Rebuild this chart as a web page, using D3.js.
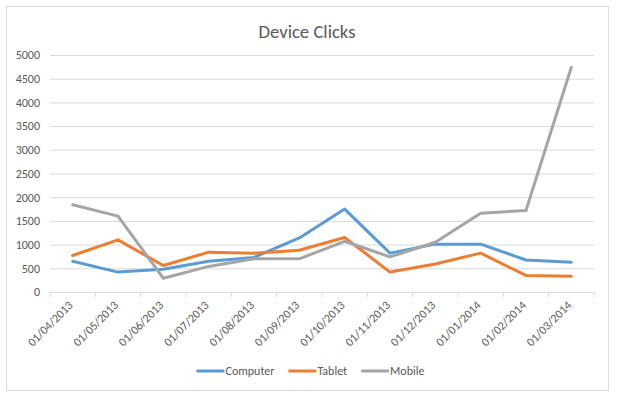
<!DOCTYPE html>
<html>
<head>
<meta charset="utf-8">
<script src="https://cdn.jsdelivr.net/npm/d3@7"></script>
<style>
  body { margin: 0; background: #fff; }
  svg text { font-family: Calibri, Carlito, "Liberation Sans", Arial, sans-serif; fill: #595959; }
</style>
</head>
<body>
<script>
// data
var months = ["01/04/2013", "01/05/2013", "01/06/2013", "01/07/2013", "01/08/2013", "01/09/2013",
  "01/10/2013", "01/11/2013", "01/12/2013", "01/01/2014", "01/02/2014", "01/03/2014"];
var computer = [650, 420, 480, 650, 730, 1140, 1750, 820, 1010, 1010, 675, 630];
var tablet = [770, 1100, 560, 840, 820, 880, 1150, 420, 590, 820, 350, 330];
var mobile = [1840, 1600, 290, 540, 700, 700, 1070, 740, 1050, 1660, 1720, 4740];
var yTicks = [0, 500, 1000, 1500, 2000, 2500, 3000, 3500, 4000, 4500, 5000];
var seriesNames = ["Computer", "Tablet", "Mobile"];
var seriesColors = ["#5B9BD5", "#ED7D31", "#A5A5A5"];

var width = 617, height = 398;
var margin = {left: 50, right: 23, top: 55, bottom: 106};

var svg = d3.select("body").append("svg")
  .attr("width", width)
  .attr("height", height);

// chart frame
svg.append("rect")
  .attr("x", 6.5).attr("y", 6.5)
  .attr("width", 602).attr("height", 384)
  .attr("fill", "#fff")
  .attr("stroke", "#D9D9D9");

svg.append("text")
  .attr("x", 307).attr("y", 38)
  .attr("text-anchor", "middle")
  .attr("font-size", 18.7)
  .text("Device Clicks");

var x = d3.scaleBand().domain(months).range([margin.left, width - margin.right]);
var y = d3.scaleLinear().domain([0, 5000]).range([height - margin.bottom, margin.top]);

// gridlines + y labels
var yAxis = svg.append("g")
  .attr("transform", "translate(" + margin.left + ",0)")
  .call(d3.axisLeft(y).tickValues(yTicks).tickFormat(d3.format("d"))
    .tickSize(-(width - margin.left - margin.right)).tickPadding(10));
yAxis.select(".domain").remove();
yAxis.selectAll(".tick line").attr("stroke", "#D9D9D9");
yAxis.selectAll(".tick text").attr("font-size", 12).attr("fill", "#595959");

// x axis: labels at category centres, tick marks at boundaries
var xAxis = svg.append("g")
  .attr("transform", "translate(0," + y(0) + ")")
  .call(d3.axisBottom(x).tickSize(0).tickPadding(0));
xAxis.select(".domain").attr("stroke", "#D9D9D9");
xAxis.selectAll(".tick text")
  .attr("font-size", 12)
  .attr("fill", "#595959")
  .attr("text-anchor", "end")
  .attr("y", 0)
  .attr("dy", "0.35em")
  .attr("transform", "translate(-2,11) rotate(-45)");

var bounds = months.map(function(d){ return x(d); }).concat([x.range()[1]]);
xAxis.selectAll(".bound")
  .data(bounds)
  .enter().append("line")
  .attr("class", "bound")
  .attr("x1", function(d){ return d; })
  .attr("x2", function(d){ return d; })
  .attr("y1", 0).attr("y2", 5)
  .attr("stroke", "#D9D9D9");

var line = d3.line()
  .x(function(d, i){ return x(months[i]) + x.bandwidth() / 2; })
  .y(function(d){ return y(d); });

[computer, tablet, mobile].forEach(function(vals, k){
  svg.append("path")
    .datum(vals)
    .attr("d", line)
    .attr("fill", "none")
    .attr("stroke", seriesColors[k])
    .attr("stroke-width", 3)
    .attr("stroke-linejoin", "round")
    .attr("stroke-linecap", "round");
});

// legend
var legend = svg.append("g").attr("transform", "translate(0,371)");
var items = legend.selectAll(".item")
  .data(seriesNames)
  .enter().append("g")
  .attr("class", "item");
items.append("line")
  .attr("x1", 0).attr("x2", 28)
  .attr("stroke", function(d, i){ return seriesColors[i]; })
  .attr("stroke-width", 3);
items.append("text")
  .attr("x", 29)
  .attr("dy", "0.35em")
  .attr("font-size", 12)
  .text(function(d){ return d; });

var widths = [];
items.each(function(){ widths.push(this.getBBox().width); });
var gap = 14;
var total = d3.sum(widths) + gap * (widths.length - 1);
var pos = (width - total) / 2 + 2;
items.attr("transform", function(d, i){
  var p = pos;
  pos += widths[i] + gap;
  return "translate(" + p + ",0)";
});
</script>
</body>
</html>
